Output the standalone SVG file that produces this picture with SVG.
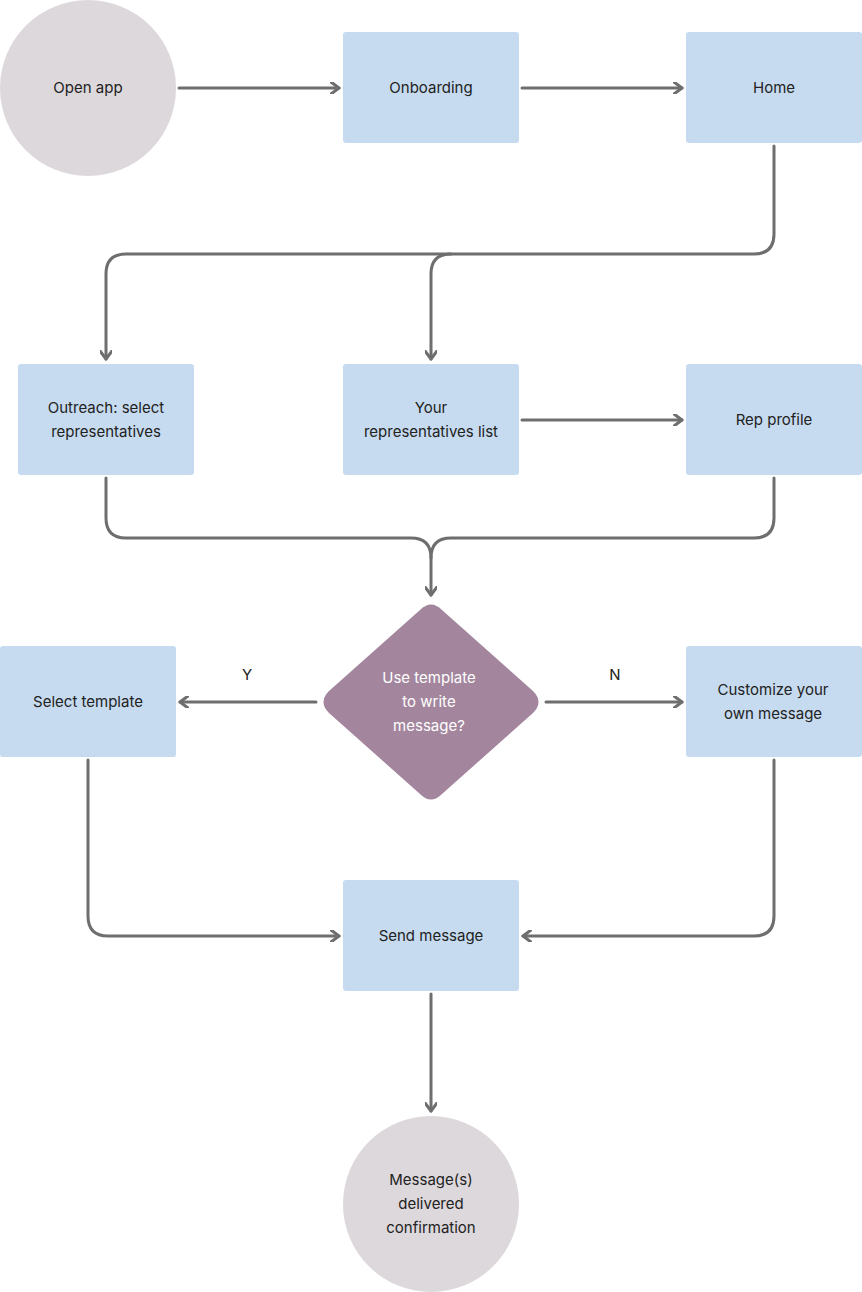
<svg xmlns="http://www.w3.org/2000/svg" width="862" height="1292" viewBox="0 0 862 1292">
<style>
.box{fill:#c6dbef}
.circ{fill:#ddd8dc}
.dia{fill:#a3869e}
.c{fill:none;stroke:#6e6e6e;stroke-width:3;stroke-linecap:round;stroke-linejoin:round}
text{font-family:Inter,"Liberation Sans",sans-serif;font-size:15px;fill:#222;text-anchor:middle}
.w{fill:#fff}
</style>
<defs>
<marker id="a" markerWidth="12" markerHeight="12" refX="9" refY="6" orient="auto" markerUnits="userSpaceOnUse">
<path d="M1,0 L9,6 L1,12" fill="none" stroke="#6e6e6e" stroke-width="3" stroke-linecap="round" stroke-linejoin="round"/>
</marker>
</defs>
<rect width="862" height="1292" fill="#fff"/>
<g id="connectors" class="c">
<path d="M179,88 H339" marker-end="url(#a)"/>
<path d="M522,88 H682" marker-end="url(#a)"/>
<path d="M774,146 V234 Q774,254 754,254 H451 Q431,254 431,274 V359" marker-end="url(#a)"/>
<path d="M451,254 H126 Q106,254 106,274 V359" marker-end="url(#a)"/>
<path d="M522,420 H682" marker-end="url(#a)"/>
<path d="M106,478 V518 Q106,538 126,538 H411 Q431,538 431,558 V595" marker-end="url(#a)"/>
<path d="M774,478 V518 Q774,538 754,538 H451 Q431,538 431,558"/>
<path d="M316,702 H180" marker-end="url(#a)"/>
<path d="M546,702 H682" marker-end="url(#a)"/>
<path d="M88,760 V916 Q88,936 108,936 H339" marker-end="url(#a)"/>
<path d="M774,760 V916 Q774,936 754,936 H523" marker-end="url(#a)"/>
<path d="M431,994 V1111" marker-end="url(#a)"/>
</g>
<text x="247" y="680">Y</text>
<text x="615" y="680">N</text>
<g id="open-app"><circle class="circ" cx="88" cy="88" r="88"/><text x="88" y="93">Open app</text></g>
<g id="onboarding"><rect class="box" x="343" y="32" width="176" height="111" rx="3"/><text x="431" y="93">Onboarding</text></g>
<g id="home"><rect class="box" x="686" y="32" width="176" height="111" rx="3"/><text x="774" y="93">Home</text></g>
<g id="outreach"><rect class="box" x="18" y="364" width="176" height="111" rx="3"/><text x="106" y="413">Outreach: select</text><text x="106" y="437">representatives</text></g>
<g id="your-reps"><rect class="box" x="343" y="364" width="176" height="111" rx="3"/><text x="431" y="413">Your</text><text x="431" y="437">representatives list</text></g>
<g id="rep-profile"><rect class="box" x="686" y="364" width="176" height="111" rx="3"/><text x="774" y="425">Rep profile</text></g>
<g id="decision"><path class="dia" d="M420,610 Q431,599 442,610 L533,691 Q544,702 533,713 L442,794 Q431,805 420,794 L329,713 Q318,702 329,691 Z"/><text class="w" x="429" y="683">Use template</text><text class="w" x="429" y="707">to write</text><text class="w" x="429" y="731">message?</text></g>
<g id="select-template"><rect class="box" x="0" y="646" width="176" height="111" rx="3"/><text x="88" y="707">Select template</text></g>
<g id="customize"><rect class="box" x="686" y="646" width="176" height="111" rx="3"/><text x="773" y="695">Customize your</text><text x="773" y="719">own message</text></g>
<g id="send"><rect class="box" x="343" y="880" width="176" height="111" rx="3"/><text x="431" y="941">Send message</text></g>
<g id="delivered"><circle class="circ" cx="431" cy="1204" r="88"/><text x="431" y="1185">Message(s)</text><text x="431" y="1209">delivered</text><text x="431" y="1233">confirmation</text></g>
</svg>
